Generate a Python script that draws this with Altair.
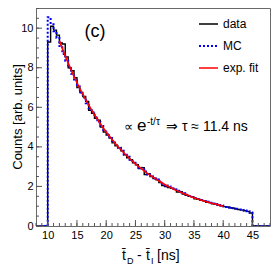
import altair as alt
import pandas as pd

# ---------------- data ----------------
BIN_START = 10.0
BIN_WIDTH = 0.5

data_counts = [9.3, 10.1, 9.9, 9.65, 9.25, 9.2, 8.55, 8.0, 7.85, 7.5,
               7.0, 6.75, 6.55, 6.3, 5.85, 5.7, 5.45, 5.35, 5.0, 4.75,
               4.6, 4.45, 4.2, 4.05, 3.95, 3.8, 3.6, 3.45, 3.35, 3.2,
               3.1, 2.9, 2.95, 2.6, 2.65, 2.5, 2.4, 2.33, 2.2, 2.05,
               2.0, 1.95, 1.9, 1.85, 1.72, 1.73, 1.62, 1.55, 1.5, 1.47,
               1.38, 1.35, 1.3, 1.27, 1.2, 1.18, 1.12, 1.1, 1.05, 1.02,
               0.98, 0.96, 0.92, 0.9, 0.86, 0.83, 0.8, 0.77, 0.74, 0.66]

mc_counts = [10.55, 10.2, 9.85, 9.5, 9.1, 8.7, 8.35, 8.0, 7.7, 7.35,
             7.05, 6.75, 6.5, 6.2, 5.95, 5.75, 5.5, 5.25, 5.05, 4.85,
             4.65, 4.45, 4.3, 4.1, 3.95, 3.8, 3.6, 3.5, 3.35, 3.2,
             3.1, 2.95, 2.85, 2.75, 2.6, 2.5, 2.4, 2.35, 2.25, 2.15,
             2.05, 2.0, 1.9, 1.85, 1.78, 1.7, 1.65, 1.58, 1.52, 1.47,
             1.42, 1.36, 1.32, 1.27, 1.22, 1.18, 1.14, 1.1, 1.06, 1.03,
             1.0, 0.96, 0.93, 0.9, 0.87, 0.84, 0.81, 0.78, 0.75, 0.68]

fit_t = [12, 13, 14, 15, 16, 17, 18, 19, 20, 21, 22, 23, 24, 25, 26,
         27, 28, 29, 30, 31, 32, 33, 34, 35, 36, 37, 38, 39, 40]
fit_vals = [9.37, 8.60, 7.89, 7.25, 6.66, 6.12, 5.62, 5.17, 4.75, 4.37,
            4.02, 3.70, 3.41, 3.14, 2.90, 2.67, 2.47, 2.28, 2.10, 1.95,
            1.80, 1.67, 1.55, 1.43, 1.33, 1.24, 1.15, 1.08, 1.00]

x_label_values = [10, 15, 20, 25, 30, 35, 40, 45]
y_label_values = [0, 2, 4, 6, 8, 10]
x_minor_ticks = list(range(8, 49))
y_minor_ticks = [i * 0.5 for i in range(0, 23)]

y_title = "Counts [arb. units]"
legend_labels = ["data", "MC", "exp. fit"]
legend_colors = ["#000000", "#0000ff", "#ff0000"]
legend_dash = [[1, 0], [2, 2], [1, 0]]

# ---------------- layout ----------------
W, H = 234, 218
X_DOM = [8, 48]
Y_DOM = [0, 11.02]
FONT = "Liberation Sans"

xs = alt.Scale(domain=X_DOM, nice=False, zero=False)
ys = alt.Scale(domain=Y_DOM, nice=False, zero=False)


def step_frame(counts):
    n = len(counts)
    t = [X_DOM[0]] + [BIN_START + BIN_WIDTH * i for i in range(n)] + \
        [BIN_START + BIN_WIDTH * n, X_DOM[1]]
    c = [0] + list(counts) + [0, 0]
    return pd.DataFrame({"t": t, "c": c})


x_axis = alt.Axis(values=x_label_values, title=None, ticks=False, domain=False,
                  grid=False, labelFontSize=11, labelPadding=3, labelFont=FONT,
                  labelColor="#000")
y_axis = alt.Axis(values=y_label_values, title=None, ticks=False,
                  domain=False, grid=False, labelFontSize=11, labelPadding=3,
                  labelFont=FONT, labelColor="#000")

X = alt.X("t:Q", scale=xs, axis=x_axis)
Y = alt.Y("c:Q", scale=ys, axis=y_axis)

data_layer = alt.Chart(step_frame(data_counts)).mark_line(
    interpolate="step-after", color="#000", strokeWidth=1.4, clip=True
).encode(x=X, y=Y)

mc_layer = alt.Chart(step_frame(mc_counts)).mark_line(
    interpolate="step-after", color="#0000ff", strokeWidth=2,
    strokeDash=[2, 2], clip=True
).encode(x=X, y=Y)

fit_layer = alt.Chart(pd.DataFrame({"t": fit_t, "c": fit_vals})).mark_line(
    interpolate="monotone", color="#ff0000", strokeWidth=1.6, clip=True
).encode(x=X, y=Y)

# inward ticks (ROOT style)
xt_minor = alt.Chart(pd.DataFrame({"t": x_minor_ticks})).mark_rule(
    color="#555", strokeWidth=1).encode(x=X, y=alt.value(H), y2=alt.value(H - 3))
xt_major = alt.Chart(pd.DataFrame({"t": x_label_values})).mark_rule(
    color="#555", strokeWidth=1).encode(x=X, y=alt.value(H), y2=alt.value(H - 6))
yt_minor = alt.Chart(pd.DataFrame({"c": y_minor_ticks})).mark_rule(
    color="#555", strokeWidth=1).encode(y=Y, x=alt.value(0), x2=alt.value(3))
yt_major = alt.Chart(pd.DataFrame({"c": y_label_values})).mark_rule(
    color="#555", strokeWidth=1).encode(y=Y, x=alt.value(0), x2=alt.value(6))

one = pd.DataFrame({"a": [0]})


def txt(s, x, y, size, align="left", baseline="alphabetic", angle=0):
    return alt.Chart(one).mark_text(
        text=s, font=FONT, fontSize=size, align=align, baseline=baseline,
        angle=angle, color="#000").encode(x=alt.value(x), y=alt.value(y))


annotations = [
    txt(y_title, -18, H / 2, 13, align="center", baseline="middle", angle=270),
    txt("(c)", 59, 24, 18, align="center", baseline="middle"),
    txt("\u221d", 88, 123, 13),
    txt("e", 101, 123, 17),
    txt("-t/\u03c4", 111, 117, 10),
    txt("\u21d2 \u03c4 \u2248 11.4 ns", 130, 123, 14),
    # x-axis title  t̄_D - t̄_I [ns]
    txt("t\u0304", 86, 252, 14),
    txt("D", 91, 256, 9),
    txt("-", 101, 252, 14),
    txt("t\u0304", 110, 252, 14),
    txt("I", 115, 256, 9),
    txt("[ns]", 121, 252, 14),
]

legend_layers = []
for i, (lab, col, dash) in enumerate(zip(legend_labels, legend_colors, legend_dash)):
    ypix = 16 + i * 22
    legend_layers.append(
        alt.Chart(one).mark_rule(color=col, strokeWidth=2 if i == 1 else 1.6,
                                 strokeDash=dash).encode(
            x=alt.value(163), x2=alt.value(182), y=alt.value(ypix)))
    legend_layers.append(txt(lab, 187, ypix, 12, baseline="middle"))

chart = alt.layer(
    data_layer, mc_layer, fit_layer, xt_minor, xt_major, yt_minor, yt_major,
    *annotations, *legend_layers
).properties(
    width=W, height=H,
    autosize=alt.AutoSizeParams(type="none"),
    padding={"left": 28, "top": 0, "right": 1, "bottom": 39},
    background="white",
).configure_view(stroke="#6a6a6a", strokeWidth=1)

chart.save("out.html", embed_options={"renderer": "svg", "actions": False})
